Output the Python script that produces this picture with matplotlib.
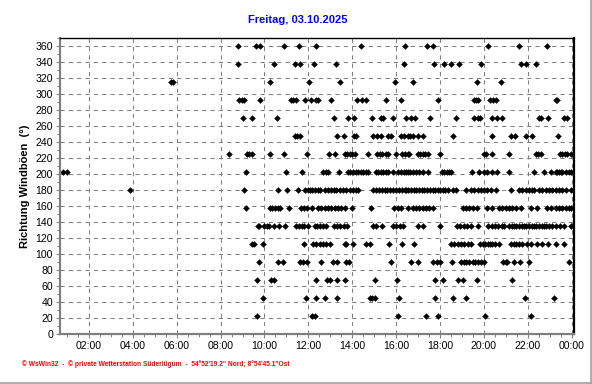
import numpy as np
import matplotlib
matplotlib.use("Agg")
from matplotlib import pyplot as plt
from matplotlib.lines import Line2D
from matplotlib.ticker import MultipleLocator

plt.rcParams['font.family'] = ['Liberation Sans', 'DejaVu Sans']
plt.rcParams['lines.scale_dashes'] = False

# Gust direction samples: time of day (decimal hours) for each compass direction
t_022 = [9.64, 12.18, 12.30, 16.09, 17.36, 17.92, 20.07, 22.13]
t_045 = [9.95, 11.89, 12.33, 12.74, 13.31, 14.80, 14.91, 15.02, 16.13, 17.77,
         18.58, 19.18, 21.87, 23.19]
t_067 = [9.67, 10.30, 10.45, 12.33, 12.85, 13.00, 13.31, 13.66, 15.02, 16.04,
         17.77, 18.12, 18.83, 19.03, 19.67, 21.29]
t_090 = [9.76, 10.60, 10.86, 11.60, 11.76, 11.94, 12.59, 13.12, 13.31, 13.73,
         13.85, 15.78, 16.68, 16.98, 17.67, 17.86, 18.01, 18.53, 18.96, 19.08,
         19.18, 19.33, 19.49, 19.59, 19.72, 19.87, 20.02, 20.87, 20.99, 21.07,
         21.37, 21.63, 22.06, 23.88]
t_112 = [9.44, 9.52, 9.93, 11.81, 12.23, 12.37, 12.52, 12.67, 12.82, 12.97,
         13.66, 13.73, 14.03, 14.61, 14.82, 15.67, 16.27, 16.83, 18.50, 18.65,
         18.81, 18.96, 19.11, 19.26, 19.41, 19.82, 19.95, 20.06, 20.17, 20.28,
         20.39, 20.51, 20.69, 21.22, 21.37, 21.48, 21.60, 21.75, 21.98, 22.13,
         22.43, 22.66, 22.94, 23.27, 23.65]
t_135 = [9.69, 9.75, 9.99, 10.13, 10.22, 10.45, 10.66, 10.93, 11.42, 11.57,
         11.70, 11.81, 11.97, 12.30, 12.38, 12.52, 12.67, 12.82, 13.15, 13.31,
         13.46, 13.61, 13.76, 14.94, 15.10, 15.37, 15.86, 16.01, 16.16, 16.31,
         16.98, 17.21, 18.01, 18.77, 18.92, 19.08, 19.23, 19.41, 19.74, 20.21,
         20.35, 20.51, 20.66, 20.81, 20.92, 21.15, 21.27, 21.37, 21.48, 21.60,
         21.72, 21.83, 21.93, 22.06, 22.18, 22.28, 22.39, 22.51, 22.63, 22.74,
         22.84, 22.97, 23.09, 23.27, 23.47, 23.65, 23.96]
t_157 = [9.14, 10.25, 10.36, 10.48, 10.60, 10.71, 11.12, 11.66, 11.81, 11.95,
         12.18, 12.44, 12.59, 12.74, 12.89, 13.05, 13.20, 13.35, 13.50, 13.66,
         14.00, 14.87, 15.89, 16.09, 16.22, 16.55, 16.75, 16.91, 17.06, 17.21,
         17.36, 17.51, 17.67, 19.03, 19.18, 19.33, 19.49, 19.69, 20.14, 20.36,
         20.69, 20.84, 20.99, 21.15, 21.29, 21.45, 21.68, 22.13, 22.43, 22.89,
         23.05, 23.27, 23.42, 23.57, 23.73, 23.88, 23.99]
t_180 = [3.88, 9.08, 10.63, 11.04, 11.51, 11.85, 11.97, 12.07, 12.18, 12.30,
         12.44, 12.54, 12.74, 12.89, 13.05, 13.15, 13.27, 13.43, 13.58, 13.73,
         13.89, 14.03, 14.18, 14.26, 14.94, 15.07, 15.22, 15.37, 15.48, 15.58,
         15.71, 15.86, 15.98, 16.13, 16.28, 16.39, 16.45, 16.55, 16.68, 16.80,
         16.91, 17.06, 17.17, 17.28, 17.41, 17.56, 17.66, 17.77, 17.89, 18.01,
         18.12, 18.23, 18.35, 18.58, 18.73, 19.18, 19.41, 19.56, 19.72, 19.87,
         20.02, 20.14, 20.32, 20.56, 21.22, 21.60, 21.75, 21.91, 22.06, 22.18,
         22.28, 22.51, 22.66, 22.82, 22.97, 23.12, 23.27, 23.42, 23.57, 23.73,
         23.96]
t_202 = [0.83, 0.98, 9.14, 10.97, 11.72, 12.67, 12.79, 12.89, 13.39, 13.81,
         13.91, 14.03, 14.16, 14.26, 14.38, 14.49, 14.61, 14.72, 15.07, 15.17,
         15.30, 15.40, 15.53, 15.63, 15.86, 16.09, 16.24, 16.34, 16.45, 16.55,
         16.65, 16.75, 16.91, 17.06, 17.21, 17.44, 18.08, 18.20, 18.32, 18.42,
         18.50, 19.44, 19.79, 19.99, 20.14, 20.36, 20.61, 21.15, 22.28, 22.74,
         23.05, 23.27, 23.35, 23.42, 23.50, 23.57, 23.73, 23.88, 23.99]
t_225 = [8.38, 9.19, 9.29, 9.42, 10.26, 10.90, 11.95, 12.94, 13.20, 13.66,
         13.78, 13.89, 14.00, 14.11, 14.72, 15.13, 15.25, 15.37, 15.53, 15.63,
         15.98, 16.29, 16.41, 16.53, 16.60, 16.98, 17.10, 17.21, 17.32, 17.44,
         18.01, 20.00, 20.10, 20.36, 21.15, 22.36, 22.48, 22.59, 23.46, 23.57,
         23.70, 23.80, 23.96]
t_247 = [11.39, 11.50, 11.62, 13.31, 13.63, 14.08, 14.19, 14.96, 15.13, 15.33,
         15.65, 15.78, 16.22, 16.36, 16.55, 16.65, 16.75, 16.98, 17.21, 18.61,
         20.38, 21.22, 21.42, 21.91, 22.18, 23.40]
t_270 = [9.01, 9.42, 10.58, 13.15, 13.81, 14.08, 14.90, 15.30, 15.40, 15.86,
         16.45, 16.66, 16.84, 17.56, 18.75, 19.53, 19.75, 19.84, 20.37, 20.60,
         20.84, 22.51, 22.62, 22.94, 23.65, 23.78]
t_292 = [8.84, 8.96, 9.08, 9.80, 11.21, 11.31, 11.42, 11.85, 12.12, 12.36,
         12.45, 13.05, 14.23, 14.45, 14.64, 15.52, 16.24, 17.92, 19.54, 19.65,
         19.75, 20.30, 20.42, 20.57, 23.27, 23.33]
t_315 = [5.76, 5.85, 10.27, 12.04, 13.46, 15.96, 16.78, 19.70, 20.79]
t_337 = [8.78, 10.45, 11.39, 11.64, 12.28, 13.28, 16.38, 17.73, 18.19, 18.51,
         18.86, 19.89, 21.71, 21.90, 22.36]
t_360 = [8.81, 9.60, 9.80, 10.89, 11.57, 12.33, 14.42, 16.41, 17.41, 17.70,
         20.20, 21.62, 22.90]

directions = [22.5, 45, 67.5, 90, 112.5, 135, 157.5, 180, 202.5, 225, 247.5,
              270, 292.5, 315, 337.5, 360]
series = [t_022, t_045, t_067, t_090, t_112, t_135, t_157, t_180, t_202, t_225,
          t_247, t_270, t_292, t_315, t_337, t_360]

hour_ticks = list(range(2, 25, 2))
hour_labels = ["%02d:00" % (h % 24) for h in hour_ticks]

times = np.concatenate([np.array(s, dtype=float) for s in series])
dirs = np.concatenate([np.full(len(s), d) for s, d in zip(series, directions)])

fig = plt.figure(figsize=(5.92, 3.84), dpi=100)
ax = fig.add_axes([60 / 592, 1 - 334 / 384, 514 / 592, 296 / 384])

ax.plot(times, dirs, linestyle='none', marker='D', markersize=3.0,
        color='black', markeredgewidth=0.3)

ax.set_xlim(0.68, 24.11)
ax.set_ylim(0, 370)
ax.set_xticks(hour_ticks)
ax.set_xticklabels(hour_labels)
ax.xaxis.set_minor_locator(MultipleLocator(0.5))
ax.set_yticks(range(0, 361, 20))
ax.yaxis.set_minor_locator(MultipleLocator(10))

ax.grid(True, which='major', color='#808080', linestyle=(0, (3, 3)), linewidth=0.75)
ax.set_axisbelow(True)

ax.tick_params(axis='both', which='major', length=3, width=0.8, color='#808080',
               labelsize=7.6, labelcolor='black', pad=2)
ax.tick_params(axis='both', which='minor', length=2, width=0.7, color='#808080')

for side in ('left', 'bottom'):
    ax.spines[side].set_color('#808080')
    ax.spines[side].set_linewidth(1.6)
ax.spines['top'].set_color('black')
ax.spines['top'].set_linewidth(1.0)
ax.spines['right'].set_color('black')
ax.spines['right'].set_linewidth(1.6)

ax.set_ylabel("Richtung Windböen  (°)", fontsize=8, fontweight='bold', labelpad=4)

fig.text(0.503, 1 - 20 / 384, "Freitag, 03.10.2025", color='#0000FF',
         fontsize=8, fontweight='bold', ha='center', va='center')
fig.text(22 / 592, 1 - 364 / 384,
         "\u00a9 WsWin32  -  \u00a9 private Wetterstation Süderlügum  -  "
         "54°52'19.2\" Nord; 8°54'45.1\"Ost",
         color='red', fontsize=4.75, fontweight='bold', ha='left', va='center')

# thin grey frame on the right and bottom edge of the picture
fig.add_artist(Line2D([590.5 / 592, 590.5 / 592], [0, 1], color='#a0a0a0', lw=1.2))
fig.add_artist(Line2D([0, 590.5 / 592], [1.5 / 384, 1.5 / 384], color='#a0a0a0', lw=1.2))

fig.savefig("out.png", dpi=100, facecolor='white')
